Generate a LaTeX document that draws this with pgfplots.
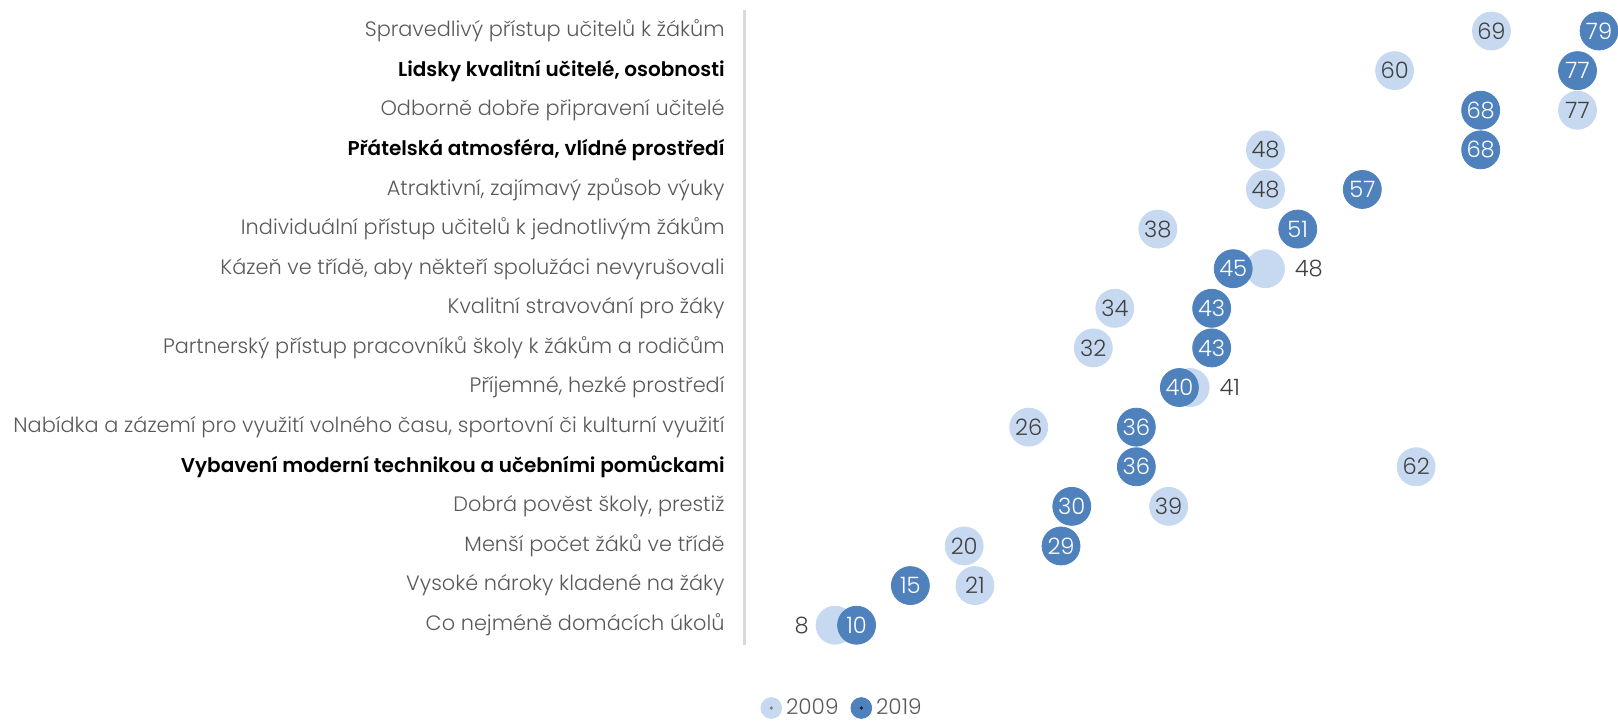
\documentclass[border=0pt]{standalone}
\usepackage{pgfplots}
\pgfplotsset{compat=1.18}
\usepackage{fontspec}
\setmainfont{Poppins}
\newfontfamily\lt{Poppins Light}
\definecolor{light}{RGB}{198,217,240}
\definecolor{dark}{RGB}{79,129,189}
\definecolor{txt}{RGB}{64,64,64}
\definecolor{cat}{RGB}{89,89,89}
\definecolor{axl}{RGB}{217,217,217}
\newcommand{\bl}{\fontsize{10}{11}\selectfont\bfseries\color{black}}
\begin{document}
\begin{tikzpicture}
\begin{axis}[
  at={(0pt,0pt)}, anchor=south west,
  scale only axis, width=436.5pt, height=317.5pt,
  xmin=-0.37, xmax=80.76, ymin=0.47, ymax=16.5, y dir=reverse,
  axis x line=none, axis y line*=left,
  y axis line style={draw=axl, line width=1.5pt},
  ytick={1,...,16}, major tick length=0pt,
  /pgf/number format/assume math mode=true,
  yticklabels={
    Spravedlivý přístup učitelů k žákům,
    {\bl Lidsky kvalitní učitelé, osobnosti},
    Odborně dobře připravení učitelé,
    {\bl Přátelská atmosféra, vlídné prostředí},
    {Atraktivní, zajímavý způsob výuky},
    Individuální přístup učitelů k jednotlivým žákům,
    {Kázeň ve třídě, aby někteří spolužáci nevyrušovali},
    Kvalitní stravování pro žáky,
    Partnerský přístup pracovníků školy k žákům a rodičům,
    {Příjemné, hezké prostředí},
    {Nabídka a zázemí pro využití volného času, sportovní či kulturní využití},
    {\bl Vybavení moderní technikou a učebními pomůckami},
    {Dobrá pověst školy, prestiž},
    Menší počet žáků ve třídě,
    Vysoké nároky kladené na žáky,
    Co nejméně domácích úkolů},
  yticklabel style={font=\lt\fontsize{10.42}{12}\selectfont, text=cat, inner sep=0pt, xshift=-10pt},
  clip=false,
  legend style={at={(0.1123,-0.0992)}, anchor=center, draw=none, fill=none,
    legend columns=2, font=\lt\fontsize{10.8}{13}\selectfont, text=cat,
    /tikz/every even column/.append style={column sep=4pt},
    inner sep=0pt, row sep=0pt},
  legend cell align=left,
]
% 2009 normal points
\addplot[color=light, only marks, mark=*, mark size=9.5pt, mark options={fill=light, draw=light},
  point meta=x, nodes near coords, nodes near coords style={anchor=center, font=\lt\fontsize{11.3}{13}\selectfont, text=txt, inner sep=0pt},
  legend image code/.code={\fill[light] (0pt,0pt) circle (5.2pt); \fill[gray] (0pt,0pt) circle (0.6pt);}]
  coordinates {(69,1) (60,2) (77,3) (48,4) (48,5) (38,6) (34,8) (32,9) (26,11) (62,12) (39,13) (20,14) (21,15)};
\addlegendentry{2009}
% 2009 points with labels on the right
\addplot[forget plot, color=light, only marks, mark=*, mark size=9.5pt, mark options={fill=light, draw=light},
  point meta=x, nodes near coords, nodes near coords style={anchor=west, xshift=14.5pt, font=\lt\fontsize{11.3}{13}\selectfont, text=txt, inner sep=0pt}]
  coordinates {(48,7) (41,10)};
% 2009 point with label on the left
\addplot[forget plot, color=light, only marks, mark=*, mark size=9.5pt, mark options={fill=light, draw=light},
  point meta=x, nodes near coords, nodes near coords style={anchor=east, xshift=-13pt, font=\lt\fontsize{11.3}{13}\selectfont, text=txt, inner sep=0pt}]
  coordinates {(8,16)};
% 2019
\addplot[color=dark, only marks, mark=*, mark size=9.5pt, mark options={fill=dark, draw=dark},
  point meta=x, nodes near coords, nodes near coords style={anchor=center, font=\lt\fontsize{11.3}{13}\selectfont, text=white, inner sep=0pt},
  legend image code/.code={\fill[dark] (0pt,0pt) circle (5.2pt); \fill[black!70!dark] (0pt,0pt) circle (0.6pt);}]
  coordinates {(79,1) (77,2) (68,3) (68,4) (57,5) (51,6) (45,7) (43,8) (43,9) (40,10) (36,11) (36,12) (30,13) (29,14) (15,15) (10,16)};
\addlegendentry{2019}
\end{axis}
\pgfresetboundingbox
\path[use as bounding box] (-372.5pt,-37.5pt) rectangle (436.5pt,322.5pt);
\end{tikzpicture}
\end{document}
